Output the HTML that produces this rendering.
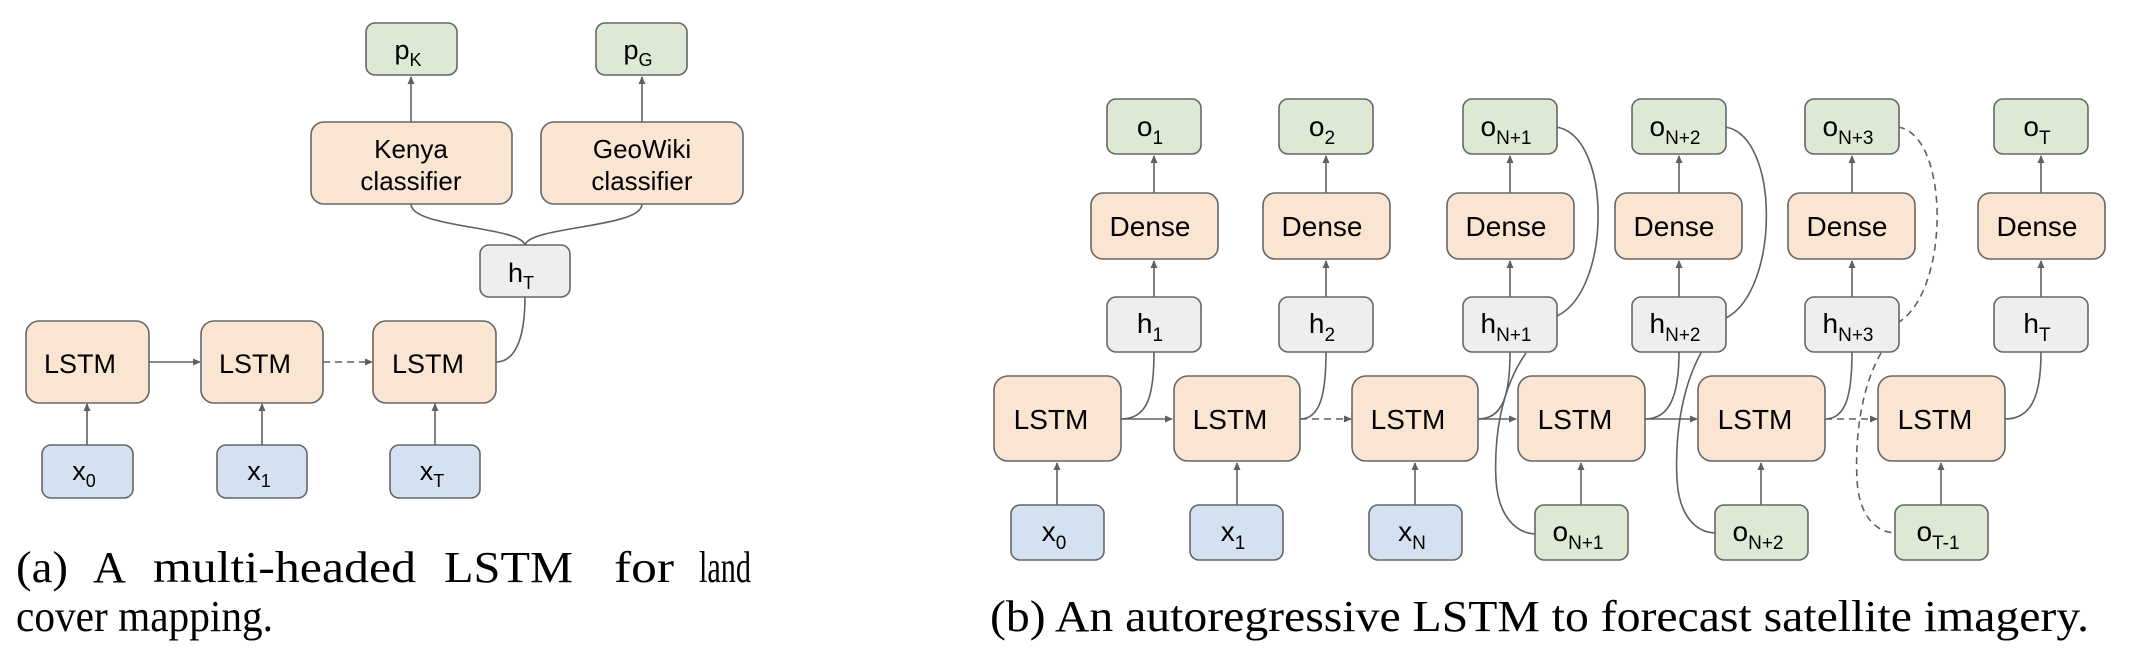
<!DOCTYPE html>
<html><head><meta charset="utf-8"><style>
html,body{margin:0;padding:0;background:#fff;}
svg{display:block;}
.b{stroke:#666;stroke-width:1.6;}
.o{fill:#f9e5d1;}.g{fill:#dde8d5;}.h{fill:#eeeeee;}.x{fill:#d3e1f0;}
.t{font-family:"Liberation Sans",Arial,sans-serif;fill:#000;text-anchor:middle;}
.l{stroke:#606060;stroke-width:1.6;fill:none;}
.d{stroke-dasharray:7,5;}
.c{font-family:"Liberation Serif","Times New Roman",serif;font-size:44px;fill:#000;}
</style></head><body>
<svg width="2130" height="654" viewBox="0 0 2130 654" xmlns="http://www.w3.org/2000/svg">
<defs><marker id="a" markerWidth="8" markerHeight="8" refX="7" refY="4" orient="auto" markerUnits="userSpaceOnUse"><path d="M0,0.5 L8,4 L0,7.5z" fill="#606060"/></marker></defs>

<!-- Panel a connectors -->
<path class="l" d="M411,204 C411,228 520,226 525,245"/>
<path class="l" d="M642,204 C642,228 530,226 525,245"/>
<path class="l" d="M525,297 C525,345 512,362 496,362"/>
<line class="l" x1="411" y1="122" x2="411" y2="77" marker-end="url(#a)"/>
<line class="l" x1="642" y1="122" x2="642" y2="77" marker-end="url(#a)"/>
<line class="l" x1="149" y1="362" x2="200" y2="362" marker-end="url(#a)"/>
<line class="l d" x1="323" y1="362" x2="372" y2="362" marker-end="url(#a)"/>
<line class="l" x1="87" y1="445" x2="87" y2="404" marker-end="url(#a)"/>
<line class="l" x1="262" y1="445" x2="262" y2="404" marker-end="url(#a)"/>
<line class="l" x1="435" y1="445" x2="435" y2="404" marker-end="url(#a)"/>

<!-- Panel a boxes -->
<rect class="b g" x="366" y="23" width="91" height="52" rx="9"/>
<text class="t" x="408" y="59" font-size="27">p<tspan font-size="18" dy="7">K</tspan></text>
<rect class="b g" x="596" y="23" width="91" height="52" rx="9"/>
<text class="t" x="638" y="59" font-size="27">p<tspan font-size="18" dy="7">G</tspan></text>
<rect class="b o" x="311" y="122" width="201" height="82" rx="13"/>
<text class="t" x="411" y="158" font-size="26">Kenya</text>
<text class="t" x="411" y="190" font-size="26">classifier</text>
<rect class="b o" x="541" y="122" width="202" height="82" rx="13"/>
<text class="t" x="642" y="158" font-size="26">GeoWiki</text>
<text class="t" x="642" y="190" font-size="26">classifier</text>
<rect class="b h" x="480" y="245" width="90" height="52" rx="9"/>
<text class="t" x="521" y="282" font-size="27">h<tspan font-size="18" dy="7">T</tspan></text>
<rect class="b o" x="26" y="321" width="123" height="82" rx="13"/>
<text class="t" x="80" y="373" font-size="27">LSTM</text>
<rect class="b o" x="201" y="321" width="122" height="82" rx="13"/>
<text class="t" x="255" y="373" font-size="27">LSTM</text>
<rect class="b o" x="373" y="321" width="123" height="82" rx="13"/>
<text class="t" x="428" y="373" font-size="27">LSTM</text>
<rect class="b x" x="42" y="445" width="91" height="53" rx="9"/>
<text class="t" x="84" y="480" font-size="27">x<tspan font-size="18" dy="7">0</tspan></text>
<rect class="b x" x="217" y="445" width="90" height="53" rx="9"/>
<text class="t" x="259" y="480" font-size="27">x<tspan font-size="18" dy="7">1</tspan></text>
<rect class="b x" x="390" y="445" width="90" height="53" rx="9"/>
<text class="t" x="432" y="480" font-size="27">x<tspan font-size="18" dy="7">T</tspan></text>

<!-- Panel b connectors -->
<g>
<path class="l" d="M1556,127 C1612,135 1612,290 1557,316"/>
<path class="l" d="M1526,353 C1500,390 1494,440 1496,480 C1498,515 1515,533 1535,534"/>
<path class="l" d="M1725,127 C1780,135 1780,290 1726,318"/>
<path class="l" d="M1702,351 C1680,390 1675,440 1677,480 C1679,515 1695,532 1715,533"/>
<path class="l d" d="M1898,127 C1950,135 1950,290 1899,322"/>
<path class="l d" d="M1881,353 C1860,390 1855,440 1857,480 C1859,515 1875,532 1895,533"/>
<path class="l" d="M1121,419 C1148,419 1154,395 1154,352"/>
<path class="l" d="M1300,419 C1320,419 1326,395 1326,352"/>
<path class="l" d="M1478,419 C1503,419 1510,395 1510,352"/>
<path class="l" d="M1645,419 C1670,419 1679,395 1679,352"/>
<path class="l" d="M1825,419 C1846,419 1852,395 1852,352"/>
<path class="l" d="M2005,419 C2032,419 2041,395 2041,352"/>
<line class="l" x1="1121" y1="419" x2="1172" y2="419" marker-end="url(#a)"/>
<line class="l d" x1="1300" y1="419" x2="1351" y2="419" marker-end="url(#a)"/>
<line class="l" x1="1478" y1="419" x2="1516" y2="419" marker-end="url(#a)"/>
<line class="l" x1="1645" y1="419" x2="1697" y2="419" marker-end="url(#a)"/>
<line class="l d" x1="1825" y1="419" x2="1877" y2="419" marker-end="url(#a)"/>
<line class="l" x1="1057" y1="505" x2="1057" y2="463" marker-end="url(#a)"/>
<line class="l" x1="1237" y1="505" x2="1237" y2="463" marker-end="url(#a)"/>
<line class="l" x1="1415" y1="505" x2="1415" y2="463" marker-end="url(#a)"/>
<line class="l" x1="1581" y1="505" x2="1581" y2="463" marker-end="url(#a)"/>
<line class="l" x1="1761" y1="505" x2="1761" y2="463" marker-end="url(#a)"/>
<line class="l" x1="1941" y1="505" x2="1941" y2="463" marker-end="url(#a)"/>
<line class="l" x1="1154" y1="297" x2="1154" y2="261" marker-end="url(#a)"/>
<line class="l" x1="1154" y1="193" x2="1154" y2="156" marker-end="url(#a)"/>
<line class="l" x1="1326" y1="297" x2="1326" y2="261" marker-end="url(#a)"/>
<line class="l" x1="1326" y1="193" x2="1326" y2="156" marker-end="url(#a)"/>
<line class="l" x1="1510" y1="297" x2="1510" y2="261" marker-end="url(#a)"/>
<line class="l" x1="1510" y1="193" x2="1510" y2="156" marker-end="url(#a)"/>
<line class="l" x1="1679" y1="297" x2="1679" y2="261" marker-end="url(#a)"/>
<line class="l" x1="1679" y1="193" x2="1679" y2="156" marker-end="url(#a)"/>
<line class="l" x1="1852" y1="297" x2="1852" y2="261" marker-end="url(#a)"/>
<line class="l" x1="1852" y1="193" x2="1852" y2="156" marker-end="url(#a)"/>
<line class="l" x1="2041" y1="297" x2="2041" y2="261" marker-end="url(#a)"/>
<line class="l" x1="2041" y1="193" x2="2041" y2="156" marker-end="url(#a)"/>
</g>

<rect class="b g" x="1107" y="99" width="94" height="55" rx="9"/>
<text class="t" x="1150" y="136" font-size="28">o<tspan font-size="19" dy="8">1</tspan></text>
<rect class="b g" x="1279" y="99" width="94" height="55" rx="9"/>
<text class="t" x="1322" y="136" font-size="28">o<tspan font-size="19" dy="8">2</tspan></text>
<rect class="b g" x="1463" y="99" width="94" height="55" rx="9"/>
<text class="t" x="1506" y="136" font-size="28">o<tspan font-size="19" dy="8">N+1</tspan></text>
<rect class="b g" x="1632" y="99" width="94" height="55" rx="9"/>
<text class="t" x="1675" y="136" font-size="28">o<tspan font-size="19" dy="8">N+2</tspan></text>
<rect class="b g" x="1805" y="99" width="94" height="55" rx="9"/>
<text class="t" x="1848" y="136" font-size="28">o<tspan font-size="19" dy="8">N+3</tspan></text>
<rect class="b g" x="1994" y="99" width="94" height="55" rx="9"/>
<text class="t" x="2037" y="136" font-size="28">o<tspan font-size="19" dy="8">T</tspan></text>

<rect class="b o" x="1091" y="193" width="127" height="66" rx="12"/>
<text class="t" x="1150" y="236" font-size="28">Dense</text>
<rect class="b o" x="1263" y="193" width="127" height="66" rx="12"/>
<text class="t" x="1322" y="236" font-size="28">Dense</text>
<rect class="b o" x="1447" y="193" width="127" height="66" rx="12"/>
<text class="t" x="1506" y="236" font-size="28">Dense</text>
<rect class="b o" x="1615" y="193" width="127" height="66" rx="12"/>
<text class="t" x="1674" y="236" font-size="28">Dense</text>
<rect class="b o" x="1788" y="193" width="127" height="66" rx="12"/>
<text class="t" x="1847" y="236" font-size="28">Dense</text>
<rect class="b o" x="1978" y="193" width="127" height="66" rx="12"/>
<text class="t" x="2037" y="236" font-size="28">Dense</text>

<rect class="b h" x="1107" y="297" width="94" height="55" rx="9"/>
<text class="t" x="1150" y="333" font-size="28">h<tspan font-size="19" dy="8">1</tspan></text>
<rect class="b h" x="1279" y="297" width="94" height="55" rx="9"/>
<text class="t" x="1322" y="333" font-size="28">h<tspan font-size="19" dy="8">2</tspan></text>
<rect class="b h" x="1463" y="297" width="94" height="55" rx="9"/>
<text class="t" x="1506" y="333" font-size="28">h<tspan font-size="19" dy="8">N+1</tspan></text>
<rect class="b h" x="1632" y="297" width="94" height="55" rx="9"/>
<text class="t" x="1675" y="333" font-size="28">h<tspan font-size="19" dy="8">N+2</tspan></text>
<rect class="b h" x="1805" y="297" width="94" height="55" rx="9"/>
<text class="t" x="1848" y="333" font-size="28">h<tspan font-size="19" dy="8">N+3</tspan></text>
<rect class="b h" x="1994" y="297" width="94" height="55" rx="9"/>
<text class="t" x="2037" y="333" font-size="28">h<tspan font-size="19" dy="8">T</tspan></text>

<rect class="b o" x="994" y="376" width="127" height="85" rx="14"/>
<text class="t" x="1051" y="429" font-size="28">LSTM</text>
<rect class="b o" x="1174" y="376" width="126" height="85" rx="14"/>
<text class="t" x="1230" y="429" font-size="28">LSTM</text>
<rect class="b o" x="1352" y="376" width="126" height="85" rx="14"/>
<text class="t" x="1408" y="429" font-size="28">LSTM</text>
<rect class="b o" x="1518" y="376" width="127" height="85" rx="14"/>
<text class="t" x="1575" y="429" font-size="28">LSTM</text>
<rect class="b o" x="1698" y="376" width="127" height="85" rx="14"/>
<text class="t" x="1755" y="429" font-size="28">LSTM</text>
<rect class="b o" x="1878" y="376" width="127" height="85" rx="14"/>
<text class="t" x="1935" y="429" font-size="28">LSTM</text>

<rect class="b x" x="1011" y="505" width="93" height="55" rx="9"/>
<text class="t" x="1054" y="541" font-size="28">x<tspan font-size="19" dy="8">0</tspan></text>
<rect class="b x" x="1190" y="505" width="93" height="55" rx="9"/>
<text class="t" x="1233" y="541" font-size="28">x<tspan font-size="19" dy="8">1</tspan></text>
<rect class="b x" x="1369" y="505" width="93" height="55" rx="9"/>
<text class="t" x="1412" y="541" font-size="28">x<tspan font-size="19" dy="8">N</tspan></text>
<rect class="b g" x="1535" y="505" width="93" height="55" rx="9"/>
<text class="t" x="1578" y="541" font-size="28">o<tspan font-size="19" dy="8">N+1</tspan></text>
<rect class="b g" x="1715" y="505" width="93" height="55" rx="9"/>
<text class="t" x="1758" y="541" font-size="28">o<tspan font-size="19" dy="8">N+2</tspan></text>
<rect class="b g" x="1895" y="505" width="93" height="55" rx="9"/>
<text class="t" x="1938" y="541" font-size="28">o<tspan font-size="19" dy="8">T-1</tspan></text>

<!-- captions -->
<text class="c" x="16" y="582" textLength="52" lengthAdjust="spacingAndGlyphs">(a)</text>
<text class="c" x="93" y="582" textLength="33" lengthAdjust="spacingAndGlyphs">A</text>
<text class="c" x="153" y="582" textLength="263" lengthAdjust="spacingAndGlyphs">multi-headed</text>
<text class="c" x="444" y="582" textLength="129" lengthAdjust="spacingAndGlyphs">LSTM</text>
<text class="c" x="614" y="582" textLength="60" lengthAdjust="spacingAndGlyphs">for</text>
<text class="c" x="699" y="582" textLength="52" lengthAdjust="spacingAndGlyphs">land</text>
<text class="c" x="16" y="631" textLength="257" lengthAdjust="spacingAndGlyphs">cover mapping.</text>
<text class="c" x="990" y="631" textLength="1099" lengthAdjust="spacingAndGlyphs">(b) An autoregressive LSTM to forecast satellite imagery.</text>
</svg>
</body></html>
